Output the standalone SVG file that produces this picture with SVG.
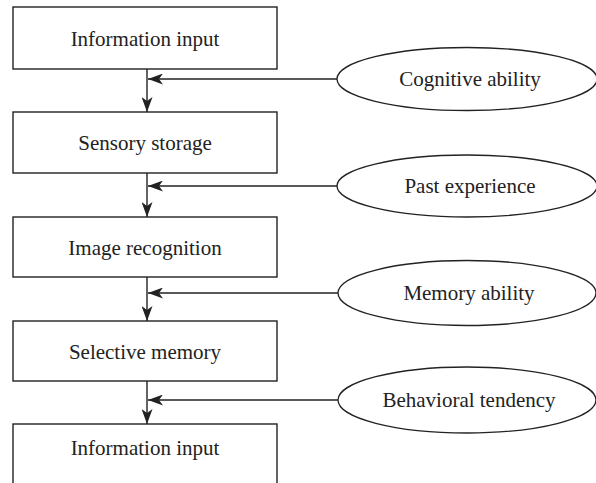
<svg xmlns="http://www.w3.org/2000/svg" width="596" height="483" viewBox="0 0 596 483">
  <style>
    .box { fill: #fff; stroke: #222; stroke-width: 1.4; }
    .oval { fill: #fff; stroke: #222; stroke-width: 1.3; }
    .lbl { font-family: "Liberation Serif", "Times New Roman", serif; font-size: 21px; fill: #222; text-anchor: middle; }
    .wire { fill: none; stroke: #222; stroke-width: 1.4; marker-end: url(#head); }
  </style>
  <defs>
    <marker id="head" viewBox="0 0 15 11" refX="15" refY="5.5" markerWidth="15" markerHeight="11" markerUnits="userSpaceOnUse" orient="auto">
      <path d="M0,0 L15,5.5 L0,11 L4,5.5 Z" fill="#222"/>
    </marker>
  </defs>
  <rect width="596" height="483" fill="#fff"/>

  <g id="step-input">
    <rect class="box" x="13" y="7" width="264" height="62"/>
    <text class="lbl" x="145" y="46">Information input</text>
  </g>
  <g id="step-sensory">
    <rect class="box" x="13" y="112" width="264" height="61"/>
    <text class="lbl" x="145" y="150">Sensory storage</text>
  </g>
  <g id="step-recognition">
    <rect class="box" x="13" y="217" width="264" height="60"/>
    <text class="lbl" x="145" y="255">Image recognition</text>
  </g>
  <g id="step-selective">
    <rect class="box" x="13" y="321" width="264" height="60"/>
    <text class="lbl" x="145" y="359">Selective memory</text>
  </g>
  <g id="step-output">
    <rect class="box" x="13" y="424" width="264" height="75"/>
    <text class="lbl" x="145" y="455">Information input</text>
  </g>

  <g id="factor-cognitive">
    <ellipse class="oval" cx="467" cy="79" rx="130" ry="31.5"/>
    <text class="lbl" x="470" y="86">Cognitive ability</text>
  </g>
  <g id="factor-experience">
    <ellipse class="oval" cx="467" cy="186" rx="130" ry="31"/>
    <text class="lbl" x="470" y="193">Past experience</text>
  </g>
  <g id="factor-memory">
    <ellipse class="oval" cx="467" cy="293" rx="129" ry="32.5"/>
    <text class="lbl" x="469" y="300">Memory ability</text>
  </g>
  <g id="factor-behavior">
    <ellipse class="oval" cx="467" cy="400" rx="129" ry="33"/>
    <text class="lbl" x="469" y="407">Behavioral tendency</text>
  </g>

  <g id="connectors">
    <line class="wire" x1="147" y1="69" x2="147" y2="112"/>
    <line class="wire" x1="147" y1="173" x2="147" y2="217"/>
    <line class="wire" x1="147" y1="277" x2="147" y2="321"/>
    <line class="wire" x1="147" y1="381" x2="147" y2="424"/>
    <line class="wire" x1="337" y1="79" x2="148" y2="79"/>
    <line class="wire" x1="337" y1="186" x2="148" y2="186"/>
    <line class="wire" x1="338" y1="293" x2="148" y2="293"/>
    <line class="wire" x1="338" y1="400" x2="148" y2="400"/>
  </g>
</svg>
